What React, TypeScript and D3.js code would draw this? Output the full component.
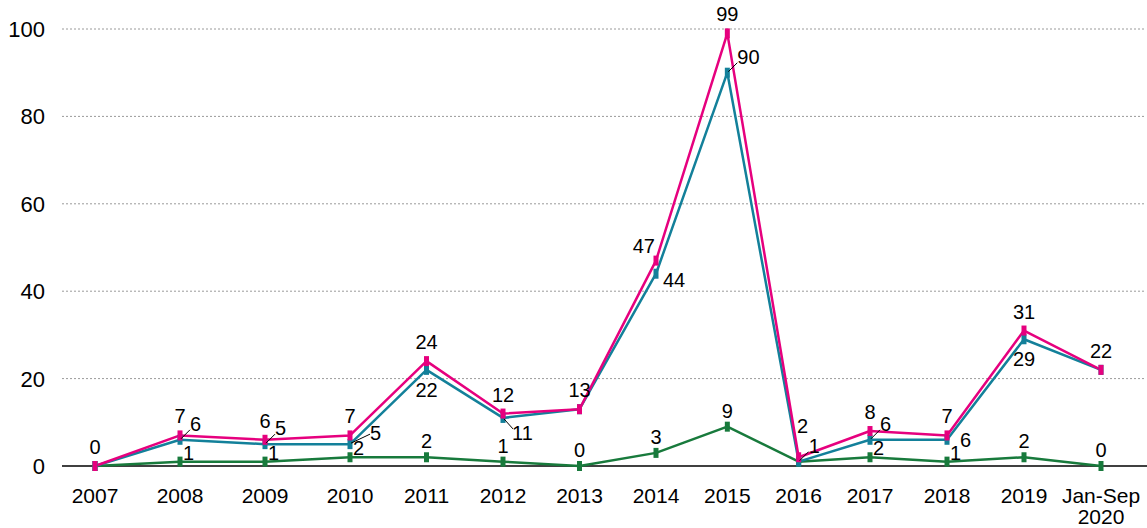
import * as d3 from 'd3';
import { FunctionComponent, useEffect, useRef } from "react";

const categories = ["2007", "2008", "2009", "2010", "2011", "2012", "2013", "2014", "2015", "2016", "2017", "2018", "2019", "Jan-Sep\n2020"];
const totalValues = [0, 7, 6, 7, 24, 12, 13, 47, 99, 2, 8, 7, 31, 22];
const tealValues = [0, 6, 5, 5, 22, 11, 13, 44, 90, 1, 6, 6, 29, 22];
const greenValues = [0, 1, 1, 2, 2, 1, 0, 3, 9, 1, 2, 1, 2, 0];
const yTicks = [0, 20, 40, 60, 80, 100];

// where each value label sits ("-" = hidden, same as the series above it)
const totalLabels = ["a", "a", "a", "a", "a", "a", "a", "al", "a", "aa", "a", "a", "a", "a"];
const tealLabels = ["-", "ru", "ru", "ru2", "b", "rd", "-", "br", "ru", "ru", "ru", "r2", "b", "-"];
const greenLabels = ["-", "r", "r", "r", "ga", "ga", "ga", "ga", "ga", "-", "r", "r", "ga", "ga"];

type Placement = { dx: number, dy: number, anchor: string, leader?: [number, number] };

const placement = (code: string): Placement | null => {
    switch (code) {
        case 'a': return { dx: 0, dy: -12, anchor: 'middle' };
        case 'ga': return { dx: 0, dy: -9, anchor: 'middle' };
        case 'aa': return { dx: 4, dy: -24, anchor: 'middle' };
        case 'al': return { dx: -1, dy: -8, anchor: 'end' };
        case 'b': return { dx: 0, dy: 27, anchor: 'middle' };
        case 'br': return { dx: 7, dy: 13, anchor: 'start' };
        case 'ru': return { dx: 10, dy: -9, anchor: 'start', leader: [10, -10] };
        case 'ru2': return { dx: 20, dy: -4, anchor: 'start', leader: [20, -10] };
        case 'rd': return { dx: 9, dy: 22, anchor: 'start', leader: [10, 11] };
        case 'r': return { dx: 3, dy: -2, anchor: 'start' };
        case 'r2': return { dx: 13, dy: 7, anchor: 'start' };
        default: return null;
    }
}

const App: FunctionComponent = () => {
    const width = 1147;
    const height = 528;
    const divRef = useRef<HTMLDivElement>(null);

    useEffect(() => {
        const svg = d3.create('svg')
            .attr('width', width)
            .attr('height', height)
            .attr('viewBox', [0, 0, width, height])
            .style('font-family', '"Liberation Sans", Arial, sans-serif')
            .style('display', 'block');

        const idx = categories.map((_, i) => i);
        // category spacing in the original is not even, so use a piecewise scale
        const x = d3.scaleLinear([0, 3, 7, 10, 13], [95, 350, 656, 870, 1101]);
        const y = d3.scaleLinear([0, 100], [466, 29]);

        // grid
        svg.append('g')
            .selectAll('line')
            .data(yTicks.filter(t => t > 0))
            .join('line')
            .attr('x1', 62).attr('x2', 1145)
            .attr('y1', d => y(d)).attr('y2', d => y(d))
            .attr('stroke', '#9a9a9a')
            .attr('stroke-width', 1)
            .attr('stroke-dasharray', '2,2');

        svg.append('line')
            .attr('x1', 62).attr('x2', width)
            .attr('y1', y(0)).attr('y2', y(0))
            .attr('stroke', '#000')
            .attr('stroke-width', 1.3);

        svg.append('g')
            .selectAll('text')
            .data(yTicks)
            .join('text')
            .attr('x', 45)
            .attr('y', d => y(d))
            .attr('dy', '0.36em')
            .attr('text-anchor', 'end')
            .attr('font-size', 22)
            .attr('fill', '#000')
            .text(d => d);

        const xl = svg.append('g')
            .selectAll('text')
            .data(categories)
            .join('text')
            .attr('x', (_, i) => x(i))
            .attr('y', 503)
            .attr('text-anchor', 'middle')
            .attr('font-size', 21)
            .attr('fill', '#000');
        xl.each(function (d) {
            const lines = d.split('\n');
            d3.select(this).selectAll('tspan')
                .data(lines)
                .join('tspan')
                .attr('x', d3.select(this).attr('x'))
                .attr('dy', (_, j) => j === 0 ? 0 : 21)
                .text(l => l);
        });

        const series = [
            { values: greenValues, labels: greenLabels, color: '#187a3c' },
            { values: tealValues, labels: tealLabels, color: '#13809a' },
            { values: totalValues, labels: totalLabels, color: '#e6007e' },
        ];

        series.forEach(s => {
            const l = d3.line<number>()
                .x(i => x(i))
                .y(i => y(s.values[i]));
            svg.append('path')
                .attr('fill', 'none')
                .attr('stroke', s.color)
                .attr('stroke-width', 2.5)
                .attr('stroke-linejoin', 'round')
                .attr('d', l(idx));
        });

        series.forEach(s => {
            svg.append('g')
                .selectAll('rect')
                .data(idx)
                .join('rect')
                .attr('x', i => x(i) - 2.5)
                .attr('y', i => y(s.values[i]) - 5)
                .attr('width', 5)
                .attr('height', 10)
                .attr('fill', s.color);
        });

        series.forEach(s => {
            idx.forEach(i => {
                const p = placement(s.labels[i]);
                if (!p) return;
                const px = x(i);
                const py = y(s.values[i]);
                if (p.leader) {
                    svg.append('line')
                        .attr('x1', px + 1).attr('y1', py + (p.leader[1] < 0 ? -1 : 1))
                        .attr('x2', px + p.leader[0]).attr('y2', py + p.leader[1])
                        .attr('stroke', '#000')
                        .attr('stroke-width', 1);
                }
                svg.append('text')
                    .attr('x', px + p.dx)
                    .attr('y', py + p.dy)
                    .attr('text-anchor', p.anchor)
                    .attr('font-size', 20)
                    .attr('fill', '#000')
                    .text(s.values[i]);
            });
        });

        divRef.current?.replaceChildren(svg.node()!);
    }, []);

    return <div ref={divRef} style={{ position: 'absolute', left: 0, top: 0 }} />
}

export default App;
